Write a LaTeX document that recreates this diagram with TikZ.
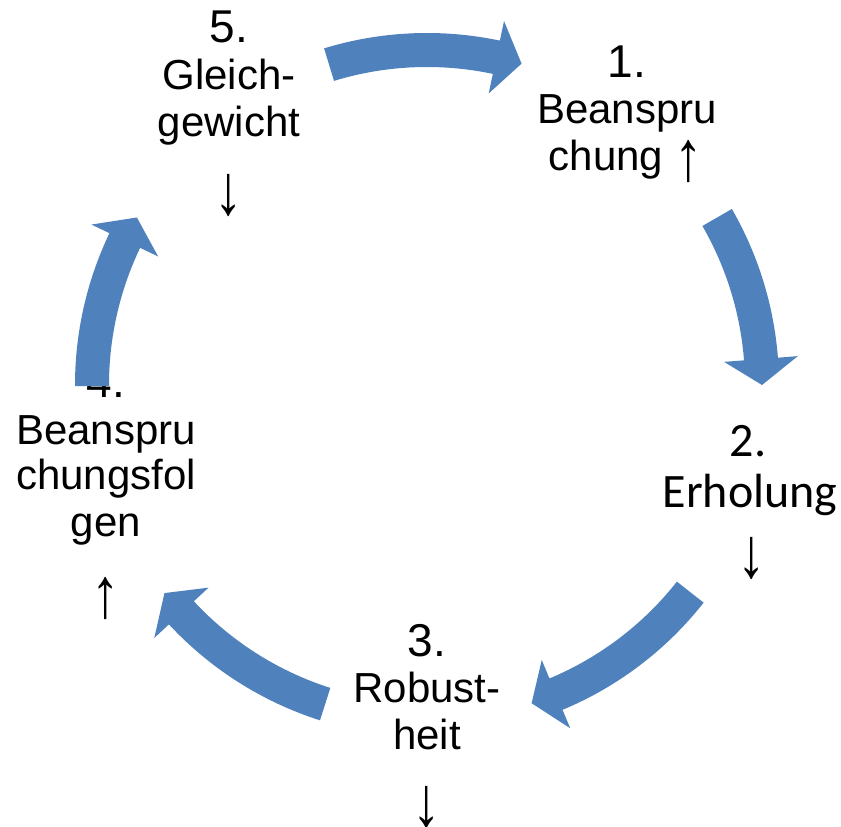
\documentclass[tikz,border=0pt]{standalone}
\usepackage{fontspec}
\setmainfont{Liberation Sans}
\newfontfamily\calibfont{Carlito}
\definecolor{arrowblue}{HTML}{4F81BD}
\newcommand\uparr{\raisebox{-10pt}{\scalebox{1.35}[1.7]{↑}}}
\newcommand\downarr{\raisebox{-10pt}{\scalebox{1.35}[1.7]{↓}}}
\tikzset{
  lbl/.style={anchor=base, inner sep=0pt, font=\fontsize{42}{46}\selectfont},
  num/.style={anchor=base, inner sep=0pt, font=\fontsize{46}{50}\selectfont},
  clbl/.style={anchor=base, inner sep=0pt, font=\calibfont\fontsize{48}{52}\selectfont},
  cycfill/.style={fill=arrowblue},
}
% #1 tail angle, #2 head base angle, #3 tip angle (relative to centre C)
\newcommand\cycarrow[3]{%
  \fill[cycfill] ([shift={(#1:352pt)}]C) arc[start angle=#1, end angle=#2, radius=352pt]
    -- ([shift={(#2:372pt)}]C) -- ([shift={(#3:335pt)}]C) -- ([shift={(#2:298pt)}]C)
    -- ([shift={(#2:318pt)}]C) arc[start angle=#2, end angle=#1, radius=318pt] -- cycle;}
\begin{document}
\begin{tikzpicture}[x=1pt,y=1pt]
\path[use as bounding box] (0,0) rectangle (841,827);
\coordinate (C) at (427,442);
% item 5
\node[num] (n5)  at (229,784) {5.};
\node[lbl] (n5a) at (229,737) {Gleich-};
\node[lbl] (n5b) at (229,690) {gewicht};
\node[lbl] (n5c) at (229,622) {\downarr};
% item 1
\node[num] (n1)  at (627,749) {1.};
\node[lbl] (n1a) at (627,703) {Beanspru};
\node[lbl] (n1b) at (626,656) {chung \uparr};
% item 2
\node[clbl] (n2)  at (748,370) {2.};
\node[clbl] (n2a) at (750,319) {Erholung};
\node[lbl]  (n2b) at (752,259) {\downarr};
% item 3
\node[num] (n3)  at (427,170) {3.};
\node[lbl] (n3a) at (427,124) {Robust-};
\node[lbl] (n3b) at (427,77)  {heit};
\node[lbl] (n3c) at (427,10)  {\downarr};
% item 4
\node[num] (n4)  at (106,429) {4.};
\node[lbl] (n4a) at (106,382) {Beanspru};
\node[lbl] (n4b) at (106,337) {chungsfol};
\node[lbl] (n4c) at (106,290) {gen};
\node[lbl] (n4d) at (106,219) {\uparr};
% cycle arrows
\cycarrow{107}{78.05}{73.6}
\cycarrow{30}{4.45}{0}
\cycarrow{-38.2}{-67.35}{-71.8}
\cycarrow{-107.7}{-137.15}{-141.6}
\cycarrow{180.2}{154.45}{150}
\end{tikzpicture}
\end{document}
